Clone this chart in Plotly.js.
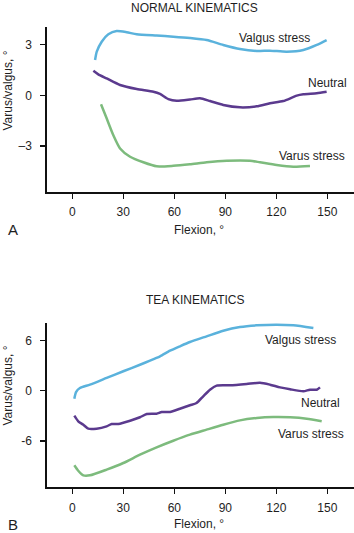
<!DOCTYPE html>
<html>
<head>
<meta charset="utf-8">
<script src="https://cdn.plot.ly/plotly-3.0.1.min.js"></script>
<style>html,body{margin:0;padding:0;background:#fff;}#chart{width:354px;height:533px;}</style>
</head>
<body>
<div id="chart"></div>
<script>
// Panel A: NORMAL KINEMATICS
const normValgusX = [13.4,14.4,17.3,21.2,26.1,32,37.9,49.6,59.4,69.2,79,88.8,98.6,108.5,116.3,126.1,135.9,143.8,149.6];
const normValgusY = [2.09,2.58,3.17,3.61,3.8,3.73,3.61,3.53,3.47,3.39,3.27,2.98,2.74,2.62,2.64,2.58,2.68,2.98,3.27];
const normNeutralX = [12.4,15.3,20.2,28.1,37.9,47.7,51.6,56.5,61.4,69.2,75.1,81,88.8,98.6,108.5,116.3,124.1,132,135.9,143.8,149.6];
const normNeutralY = [1.45,1.24,1.0,0.61,0.37,0.21,0.08,-0.22,-0.32,-0.25,-0.18,-0.34,-0.57,-0.71,-0.65,-0.47,-0.34,-0.02,0.06,0.12,0.21];
const normVarusX = [16.9,20.2,24.1,28.1,34,41.8,49.6,59.4,69.2,79,90.8,104.5,110.4,120.2,130,139.8];
const normVarusY = [-0.53,-1.36,-2.35,-3.14,-3.63,-3.96,-4.2,-4.17,-4.08,-3.96,-3.87,-3.87,-3.96,-4.12,-4.22,-4.18];

// Panel B: TEA KINEMATICS
const teaValgusX = [1.2,2.2,4.5,10.4,20.2,30,39.8,45.7,51.6,57.5,63.3,69.2,79,88.8,98.6,108.5,120.2,130,141.8];
const teaValgusY = [-0.95,-0.16,0.32,0.72,1.52,2.32,3.1,3.58,4.1,4.77,5.3,5.81,6.49,7.16,7.6,7.8,7.88,7.8,7.48];
const teaNeutralX = [1.2,3.5,6.5,9.4,14.3,20.2,23.2,27.1,34,39.8,43.8,49.6,52.6,57.5,63.3,69.2,73.1,77,81,84.9,92.8,102.6,110.4,116.3,122.2,128.1,135.9,139.8,143.8,145.7];
const teaNeutralY = [-2.98,-3.65,-4.06,-4.53,-4.53,-4.25,-3.97,-3.97,-3.58,-3.17,-2.78,-2.74,-2.54,-2.54,-2.15,-1.74,-1.47,-0.67,0.12,0.6,0.64,0.8,0.95,0.72,0.4,0.17,-0.07,0.12,0.12,0.4];
const teaVarusX = [1.2,3.5,6.5,10.4,20.2,30,39.8,49.6,59.4,69.2,79,88.8,98.6,108.5,118.2,128.1,137.9,146.7];
const teaVarusY = [-8.9,-9.55,-10.1,-10.1,-9.42,-8.63,-7.64,-6.76,-5.97,-5.25,-4.65,-4.06,-3.54,-3.26,-3.14,-3.17,-3.34,-3.65];

// Tick labels
const xTickVals = [0,30,60,90,120,150];
const xTickText = ['0','30','60','90','120','150'];
const normYTickVals = [-3,0,3];
const normYTickText = ['\u20133','0','3'];
const teaYTickVals = [-6,0,6];
const teaYTickText = ['-6','0','6'];

const seriesNames = ['Valgus stress','Neutral','Varus stress'];

const BLUE = '#5ab2dc', PURPLE = '#5b3a8e', GREEN = '#7dbb7d';
const W = 354, H = 533;
const px = v => v / W;
const py = v => 1 - v / H;

function line(x, y, color, xa, ya) {
  return {x: x, y: y, type: 'scatter', mode: 'lines', xaxis: xa, yaxis: ya,
          line: {color: color, width: 2.5, shape: 'spline', smoothing: 0.6},
          hoverinfo: 'skip', showlegend: false};
}

const data = [
  line(normValgusX, normValgusY, BLUE, 'x', 'y'),
  line(normNeutralX, normNeutralY, PURPLE, 'x', 'y'),
  line(normVarusX, normVarusY, GREEN, 'x', 'y'),
  line(teaValgusX, teaValgusY, BLUE, 'x2', 'y2'),
  line(teaNeutralX, teaNeutralY, PURPLE, 'x2', 'y2'),
  line(teaVarusX, teaVarusY, GREEN, 'x2', 'y2')
];

const font = {family: 'Liberation Sans, Arial, sans-serif', size: 12, color: '#1e1e1e'};
const axisCommon = {
  showgrid: false, zeroline: false, showline: true, linecolor: '#111', linewidth: 2,
  ticks: 'outside', ticklen: 5, tickwidth: 1.3, tickcolor: '#111',
  tickfont: font, fixedrange: true
};

function ann(text, x, y, xref, yref, extra) {
  return Object.assign({text: text, x: x, y: y, xref: xref, yref: yref, showarrow: false,
    font: font, xanchor: 'center', yanchor: 'middle'}, extra || {});
}

const annotations = [
  ann('NORMAL KINEMATICS', px(194.5), py(8), 'paper', 'paper'),
  ann('TEA KINEMATICS', px(195), py(300), 'paper', 'paper'),
  ann('Flexion, \u00b0', px(198.5), py(230), 'paper', 'paper'),
  ann('Flexion, \u00b0', px(198.5), py(524), 'paper', 'paper'),
  ann('A', px(13), py(230), 'paper', 'paper', {font: Object.assign({}, font, {size: 15})}),
  ann('B', px(13), py(524), 'paper', 'paper', {font: Object.assign({}, font, {size: 15})}),
  ann('Varus/valgus, \u00b0', px(7.5), py(91), 'paper', 'paper', {textangle: -90}),
  ann('Varus/valgus, \u00b0', px(7.5), py(386), 'paper', 'paper', {textangle: -90}),
  ann(seriesNames[0], 119.2, 3.41, 'x', 'y'),
  ann(seriesNames[1], 150.4, 0.75, 'x', 'y'),
  ann(seriesNames[2], 141, -3.57, 'x', 'y'),
  ann(seriesNames[0], 134.3, 6.05, 'x2', 'y2'),
  ann(seriesNames[1], 146, -1.5, 'x2', 'y2'),
  ann(seriesNames[2], 140.4, -5.2, 'x2', 'y2')
];

const layout = {
  width: W, height: H,
  margin: {l: 0, r: 0, t: 0, b: 0, pad: 0},
  paper_bgcolor: '#fff', plot_bgcolor: '#fff',
  font: font,
  showlegend: false,
  xaxis: Object.assign({}, axisCommon, {domain: [px(47.3), 1], range: [-14.7, 165.7],
    tickvals: xTickVals, ticktext: xTickText, anchor: 'y', ticklabelstandoff: 3}),
  yaxis: Object.assign({}, axisCommon, {domain: [py(191.7), py(27)], range: [-5.70, 4.04],
    tickvals: normYTickVals, ticktext: normYTickText, anchor: 'x', ticklabelstandoff: 6}),
  xaxis2: Object.assign({}, axisCommon, {domain: [px(47.3), 1], range: [-14.7, 165.7],
    tickvals: xTickVals, ticktext: xTickText, anchor: 'y2', ticklabelstandoff: 3}),
  yaxis2: Object.assign({}, axisCommon, {domain: [py(487.3), py(323)], range: [-11.53, 8.08],
    tickvals: teaYTickVals, ticktext: teaYTickText, anchor: 'x2', ticklabelstandoff: 6}),
  annotations: annotations
};

Plotly.newPlot('chart', data, layout, {staticPlot: true, displayModeBar: false});
</script>
</body>
</html>
